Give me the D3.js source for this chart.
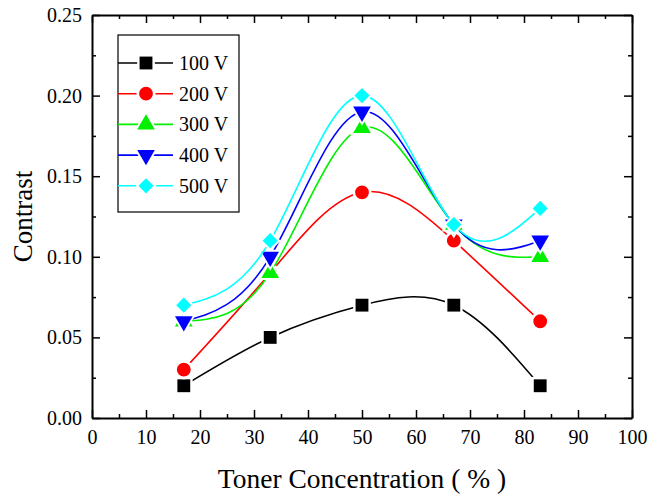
<!DOCTYPE html>
<html>
<head>
<meta charset="utf-8">
<script src="https://cdn.jsdelivr.net/npm/d3@7"></script>
<style>
  body { margin: 0; background: #fff; }
  svg { font-family: "Liberation Serif", "Times New Roman", serif; }
  .axis path, .axis line { stroke: #000; }
  .axis path { stroke-width: 2; }
  .axis line { stroke-width: 1.5; }
</style>
</head>
<body>
<div id="chart"></div>
<script>
// chart data
var concentration = [17, 33, 50, 67, 83];
var seriesNames = ["100 V", "200 V", "300 V", "400 V", "500 V"];
var v100 = [0.02, 0.05, 0.07, 0.07, 0.02];
var v200 = [0.03, 0.09, 0.14, 0.11, 0.06];
var v300 = [0.06, 0.09, 0.18, 0.12, 0.10];
var v400 = [0.06, 0.10, 0.19, 0.12, 0.11];
var v500 = [0.07, 0.11, 0.20, 0.12, 0.13];
var xTicks = [0, 10, 20, 30, 40, 50, 60, 70, 80, 90, 100];
var yTicks = [0, 0.05, 0.10, 0.15, 0.20, 0.25];

var width = 651;
var height = 495;
var margin = {top: 15, right: 19, bottom: 77, left: 92};
var w = width - margin.left - margin.right;
var h = height - margin.top - margin.bottom;

var colours = ["#000000", "#ff0000", "#00f000", "#0000ff", "#00ffff"];
var symbols = ["square", "circle", "triangle", "triangleDown", "diamond"];
var allValues = [v100, v200, v300, v400, v500];

var series = seriesNames.map(function(name, i) {
    return {
        name: name,
        colour: colours[i],
        symbol: symbols[i],
        points: concentration.map(function(c, j) {
            return {x: c, y: allValues[i][j]};
        })
    };
});

var svg = d3.select('#chart')
    .append('svg')
    .attr('width', width)
    .attr('height', height)
    .append('g')
    .attr('transform', 'translate(' + margin.left + ',' + margin.top + ')');

var x = d3.scaleLinear().domain([0, 100]).range([0, w]);
var y = d3.scaleLinear().domain([0, 0.25]).range([h, 0]);

var xMinor = d3.range(5, 100, 10);
var yMinor = d3.range(0.025, 0.25, 0.05);

// minor ticks (inward, shorter)
svg.append('g').attr('class', 'axis')
    .attr('transform', 'translate(0,' + h + ')')
    .call(d3.axisBottom(x).tickValues(xMinor).tickSize(-4).tickFormat(''))
    .select('.domain').remove();
svg.append('g').attr('class', 'axis')
    .call(d3.axisTop(x).tickValues(xMinor).tickSize(-4).tickFormat(''))
    .select('.domain').remove();
svg.append('g').attr('class', 'axis')
    .call(d3.axisLeft(y).tickValues(yMinor).tickSize(-4).tickFormat(''))
    .select('.domain').remove();
svg.append('g').attr('class', 'axis')
    .attr('transform', 'translate(' + w + ',0)')
    .call(d3.axisRight(y).tickValues(yMinor).tickSize(-4).tickFormat(''))
    .select('.domain').remove();

// major axes
var xAxis = svg.append('g').attr('class', 'axis')
    .attr('transform', 'translate(0,' + h + ')')
    .call(d3.axisBottom(x).tickValues(xTicks).tickSizeInner(-8).tickSizeOuter(0).tickPadding(12).tickFormat(d3.format('d')));
xAxis.selectAll('text').attr('font-size', 20).attr('fill', '#000').attr('font-family', '"Liberation Serif", serif');

svg.append('g').attr('class', 'axis')
    .call(d3.axisTop(x).tickValues(xTicks).tickSizeInner(-8).tickSizeOuter(0).tickFormat(''));

var yAxis = svg.append('g').attr('class', 'axis')
    .call(d3.axisLeft(y).tickValues(yTicks).tickSizeInner(-8).tickSizeOuter(0).tickPadding(10).tickFormat(d3.format('.2f')));
yAxis.selectAll('text').attr('font-size', 20).attr('fill', '#000').attr('font-family', '"Liberation Serif", serif');

svg.append('g').attr('class', 'axis')
    .attr('transform', 'translate(' + w + ',0)')
    .call(d3.axisRight(y).tickValues(yTicks).tickSizeInner(-8).tickSizeOuter(0).tickFormat(''));

// axis titles
svg.append('text')
    .attr('text-anchor', 'middle')
    .attr('x', w / 2)
    .attr('y', h + 70)
    .attr('font-size', 27.5)
    .text('Toner Concentration ( % )');

svg.append('text')
    .attr('text-anchor', 'middle')
    .attr('transform', 'translate(' + (-60) + ',' + (h / 2) + ') rotate(-90)')
    .attr('font-size', 27)
    .text('Contrast');

var line = d3.line()
    .x(function(d) { return x(d.x); })
    .y(function(d) { return y(d.y); })
    .curve(d3.curveNatural);

var symbolMap = {
    square: {type: d3.symbolSquare, size: 165, rot: 0},
    circle: {type: d3.symbolCircle, size: 150, rot: 0},
    triangle: {type: d3.symbolTriangle, size: 135, rot: 0},
    triangleDown: {type: d3.symbolTriangle, size: 135, rot: 180},
    diamond: {type: d3.symbolSquare, size: 115, rot: 45}
};

function symbolPath(name, scale) {
    var s = symbolMap[name];
    return d3.symbol().type(s.type).size(s.size * (scale || 1))();
}

series.forEach(function(s) {
    var g = svg.append('g');
    g.append('path')
        .datum(s.points)
        .attr('fill', 'none')
        .attr('stroke', s.colour)
        .attr('stroke-width', 1.6)
        .attr('d', line);

    var rot = symbolMap[s.symbol].rot;
    // white gap around markers
    g.selectAll('.halo')
        .data(s.points)
        .enter().append('path')
        .attr('transform', function(d) {
            return 'translate(' + x(d.x) + ',' + y(d.y) + ') rotate(' + rot + ')';
        })
        .attr('d', symbolPath(s.symbol, 1.9))
        .attr('fill', '#fff');

    g.selectAll('.marker')
        .data(s.points)
        .enter().append('path')
        .attr('transform', function(d) {
            return 'translate(' + x(d.x) + ',' + y(d.y) + ') rotate(' + rot + ')';
        })
        .attr('d', symbolPath(s.symbol))
        .attr('fill', s.colour);
});

// legend
var legend = svg.append('g')
    .attr('transform', 'translate(' + (118 - margin.left) + ',' + (35 - margin.top) + ')');

legend.append('rect')
    .attr('width', 121)
    .attr('height', 177)
    .attr('fill', '#fff')
    .attr('stroke', '#000')
    .attr('stroke-width', 1.2);

var items = legend.selectAll('.lineLegend')
    .data(series)
    .enter().append('g')
    .attr('class', 'lineLegend')
    .attr('transform', function(d, i) {
        return 'translate(0,' + (28 + i * 30.7) + ')';
    });

items.append('line')
    .attr('x1', 0).attr('x2', 55)
    .attr('stroke', function(d) { return d.colour; })
    .attr('stroke-width', 1.6);

items.append('path')
    .attr('transform', function(d) {
        return 'translate(28,0) rotate(' + symbolMap[d.symbol].rot + ')';
    })
    .attr('d', function(d) { return symbolPath(d.symbol, 1.9); })
    .attr('fill', '#fff');

items.append('path')
    .attr('transform', function(d) {
        return 'translate(28,0) rotate(' + symbolMap[d.symbol].rot + ')';
    })
    .attr('d', function(d) { return symbolPath(d.symbol); })
    .attr('fill', function(d) { return d.colour; });

items.append('text')
    .attr('x', 61)
    .attr('dy', '0.35em')
    .attr('font-size', 20)
    .text(function(d) { return d.name; });
</script>
</body>
</html>
